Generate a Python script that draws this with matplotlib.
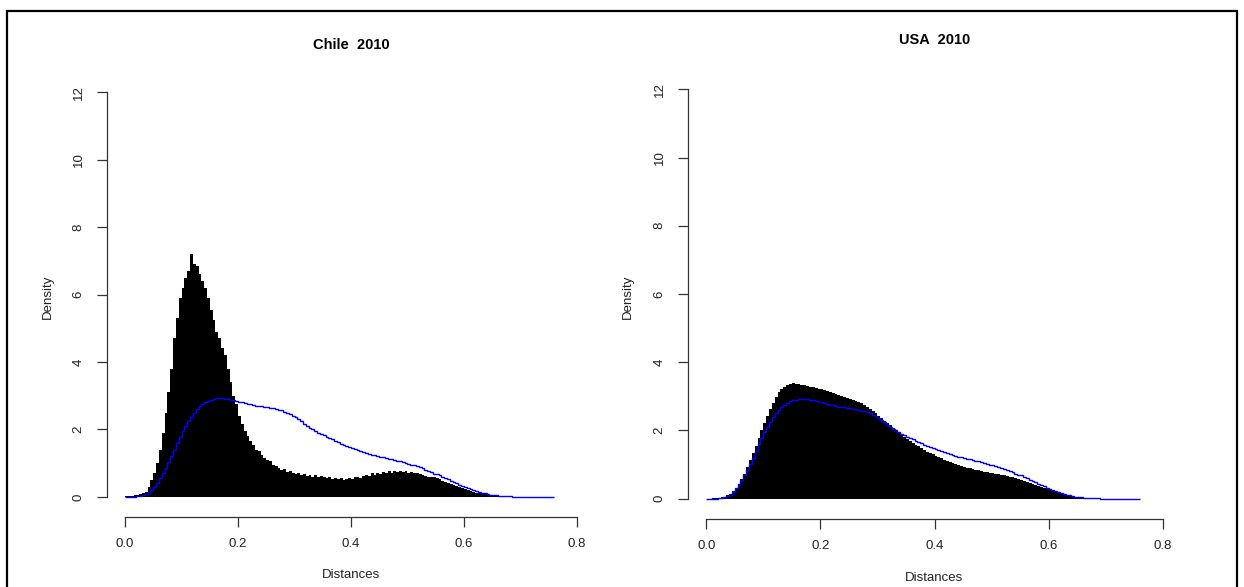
import matplotlib.pyplot as plt
import matplotlib.patches as patches
import numpy as np

# bin width of every histogram below (bins start at 0.0)
bin_width = 0.005

# Chile 2010 – observed distance density
chile_density = [
    0.02, 0.02, 0.03, 0.04, 0.05, 0.07, 0.10, 0.15, 0.30, 0.50,
    0.70, 1.00, 1.40, 1.90, 2.50, 3.10, 3.80, 4.70, 5.30, 5.90,
    6.20, 6.50, 6.70, 7.20, 6.90, 6.85, 6.60, 6.40, 6.20, 5.90,
    5.55, 5.25, 4.90, 4.70, 4.40, 4.20, 3.80, 3.40, 3.00, 2.75,
    2.40, 2.15, 1.95, 1.80, 1.65, 1.55, 1.40, 1.35, 1.25, 1.15,
    1.10, 1.05, 0.95, 0.90, 0.85, 0.80, 0.82, 0.75, 0.78, 0.70,
    0.68, 0.72, 0.65, 0.68, 0.62, 0.66, 0.60, 0.64, 0.58, 0.62,
    0.60, 0.55, 0.58, 0.54, 0.57, 0.52, 0.55, 0.50, 0.54, 0.56,
    0.52, 0.58, 0.60, 0.56, 0.62, 0.65, 0.62, 0.70, 0.66, 0.72,
    0.68, 0.74, 0.70, 0.76, 0.72, 0.78, 0.74, 0.76, 0.73, 0.77,
    0.72, 0.75, 0.70, 0.72, 0.68, 0.66, 0.63, 0.60, 0.58, 0.58,
    0.55, 0.52, 0.48, 0.45, 0.42, 0.38, 0.35, 0.32, 0.29, 0.26,
    0.23, 0.20, 0.17, 0.15, 0.12, 0.10, 0.08, 0.07, 0.05, 0.04,
    0.03, 0.02, 0.015, 0.01, 0.008, 0.005, 0.004, 0.003,
]

# USA 2010 – observed distance density
usa_density = [
    0.00, 0.00, 0.01, 0.01, 0.02, 0.04, 0.06, 0.10, 0.15, 0.22,
    0.32, 0.43, 0.57, 0.73, 0.92, 1.12, 1.33, 1.55, 1.78, 2.00,
    2.22, 2.42, 2.62, 2.80, 2.98, 3.12, 3.22, 3.28, 3.33, 3.36,
    3.38, 3.37, 3.36, 3.34, 3.33, 3.30, 3.28, 3.26, 3.24, 3.22,
    3.20, 3.18, 3.16, 3.14, 3.11, 3.08, 3.05, 3.02, 2.99, 2.96,
    2.93, 2.90, 2.86, 2.83, 2.79, 2.75, 2.70, 2.64, 2.57, 2.50,
    2.43, 2.36, 2.29, 2.22, 2.15, 2.08, 2.01, 1.95, 1.89, 1.82,
    1.76, 1.70, 1.64, 1.58, 1.53, 1.48, 1.43, 1.38, 1.34, 1.30,
    1.26, 1.22, 1.18, 1.14, 1.11, 1.08, 1.05, 1.02, 0.99, 0.96,
    0.94, 0.91, 0.89, 0.87, 0.85, 0.83, 0.81, 0.79, 0.77, 0.76,
    0.74, 0.73, 0.71, 0.70, 0.68, 0.66, 0.64, 0.62, 0.60, 0.57,
    0.54, 0.51, 0.48, 0.45, 0.42, 0.39, 0.36, 0.33, 0.30, 0.27,
    0.25, 0.22, 0.20, 0.17, 0.15, 0.13, 0.11, 0.09, 0.08, 0.06,
    0.05, 0.04, 0.03, 0.02, 0.015, 0.01, 0.008, 0.005, 0.003,
]

# reference distribution (blue step line), same in both panels
reference_density = [
    0.00, 0.00, 0.00, 0.00, 0.01, 0.02, 0.04, 0.07, 0.12, 0.20,
    0.30, 0.42, 0.55, 0.70, 0.85, 1.02, 1.20, 1.40, 1.60, 1.78,
    1.95, 2.10, 2.25, 2.38, 2.50, 2.60, 2.68, 2.75, 2.80, 2.85,
    2.88, 2.90, 2.92, 2.92, 2.92, 2.91, 2.90, 2.88, 2.86, 2.84,
    2.82, 2.80, 2.78, 2.76, 2.74, 2.72, 2.70, 2.69, 2.68, 2.66,
    2.65, 2.64, 2.62, 2.60, 2.58, 2.56, 2.53, 2.50, 2.46, 2.41,
    2.36, 2.30, 2.24, 2.17, 2.11, 2.05, 2.00, 1.95, 1.90, 1.86,
    1.82, 1.78, 1.74, 1.70, 1.66, 1.62, 1.58, 1.55, 1.51, 1.48,
    1.45, 1.42, 1.39, 1.36, 1.33, 1.30, 1.28, 1.25, 1.23, 1.21,
    1.19, 1.17, 1.15, 1.13, 1.11, 1.09, 1.07, 1.05, 1.02, 1.00,
    0.98, 0.95, 0.93, 0.90, 0.87, 0.84, 0.81, 0.77, 0.73, 0.69,
    0.68, 0.64, 0.60, 0.56, 0.52, 0.48, 0.44, 0.40, 0.36, 0.32,
    0.28, 0.25, 0.22, 0.19, 0.16, 0.14, 0.12, 0.10, 0.08, 0.06,
    0.05, 0.04, 0.03, 0.02, 0.015, 0.01, 0.01, 0.005, 0.0, 0.0,
    0.0, 0.0, 0.0, 0.0, 0.0, 0.0, 0.0, 0.0, 0.0, 0.0,
    0.0, 0.0,
]

titles = ['Chile  2010', 'USA  2010']
panels = [chile_density, usa_density]
x_ticks = [0.0, 0.2, 0.4, 0.6, 0.8]
x_ticklabels = ['0.0', '0.2', '0.4', '0.6', '0.8']
y_ticks = [0, 2, 4, 6, 8, 10, 12]

W, H = 1244, 587
plt.rcParams['font.family'] = ['Liberation Sans', 'DejaVu Sans']
fig = plt.figure(figsize=(W / 100, H / 100), dpi=100)

# outer frame
fig.add_artist(patches.Rectangle((7 / W, -0.05), (1237 - 7) / W, 1.05 - 11 / H,
                                 transform=fig.transFigure, fill=False,
                                 edgecolor='black', linewidth=1.6))

# axes boxes in pixels: left, bottom, width, height (from top-left origin)
boxes = [(107, 513, 488, 437), (688, 515, 493, 442)]
title_y = [1.051, 1.055]
xlabel_y = [-0.142, -0.143]

for i, (vals, title) in enumerate(zip(panels, titles)):
    left, bottom, w, h = boxes[i]
    ax = fig.add_axes([left / W, 1 - bottom / H, w / W, h / H])

    edges = bin_width * np.arange(len(vals) + 1)
    ax.stairs(vals, edges, fill=True, color='black', linewidth=0)
    ref_edges = bin_width * np.arange(len(reference_density) + 1)
    ax.stairs(reference_density, ref_edges, color='blue', linewidth=1.0)

    ax.set_xlim(-0.032, 0.832)
    ax.set_ylim(-0.48, 12.48)

    for s in ['top', 'right']:
        ax.spines[s].set_visible(False)
    ax.spines['left'].set_bounds(0, 12)
    ax.spines['bottom'].set_bounds(0, 0.8)
    ax.spines['bottom'].set_position(('outward', 3))
    for s in ['left', 'bottom']:
        ax.spines[s].set_color('#333333')
        ax.spines[s].set_linewidth(0.9)

    ax.set_xticks(x_ticks)
    ax.set_xticklabels(x_ticklabels)
    ax.set_yticks(y_ticks)
    ax.set_yticklabels([str(t) for t in y_ticks], rotation=90, va='center')
    ax.tick_params(axis='both', length=7, width=0.9, color='#333333',
                   labelsize=9.5, labelcolor='#222222')
    ax.tick_params(axis='x', pad=8)
    ax.tick_params(axis='y', pad=9)

    ax.set_ylabel('Density', fontsize=9.5, va='center', color='#222222')
    ax.yaxis.set_label_coords(-0.121, 0.494)
    ax.set_xlabel('Distances', fontsize=9.5, va='center', color='#222222')
    ax.xaxis.set_label_coords(0.5, xlabel_y[i])
    ax.set_title(title, fontsize=10.5, fontweight='bold', y=title_y[i], va='center')

fig.savefig('out.png', dpi=100)
